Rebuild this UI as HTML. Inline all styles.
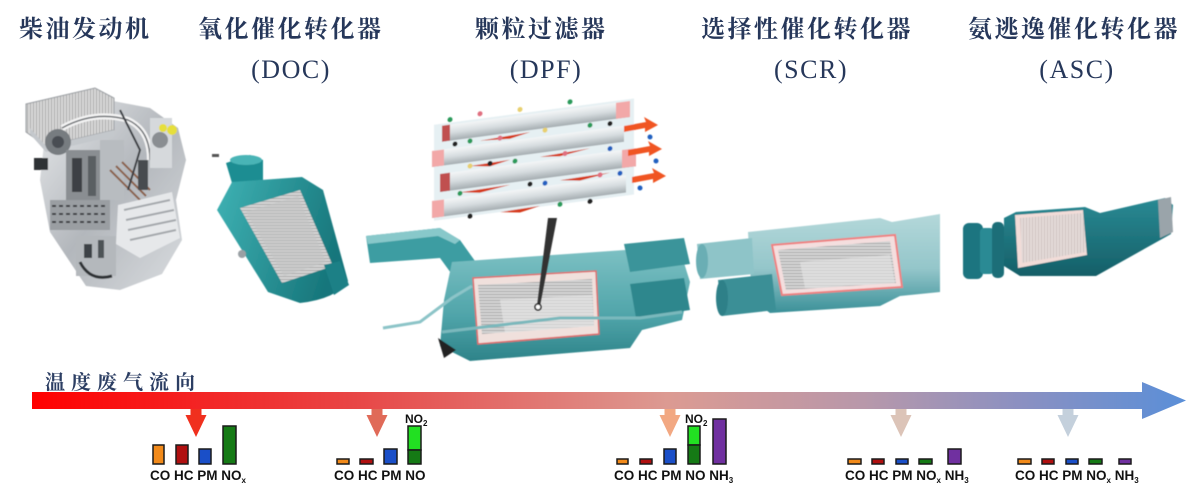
<!DOCTYPE html>
<html><head><meta charset="utf-8"><style>
html,body{margin:0;padding:0;background:#fff;}
svg{display:block;}
.t1{font-family:"Liberation Serif","Noto Serif CJK SC",serif;font-size:24px;font-weight:bold;fill:#26375a;letter-spacing:2.5px;}
.t2{font-family:"Liberation Serif","Noto Serif CJK SC",serif;font-size:26px;fill:#26375a;letter-spacing:1.5px;}
.lb{font-family:"Liberation Sans",Arial,sans-serif;font-size:13.5px;font-weight:bold;fill:#111;}
.sb{font-size:8px;}
.bar{stroke:#1a1a1a;stroke-width:1.5;}
</style></head><body>
<svg width="1193" height="491" viewBox="0 0 1193 491" xmlns="http://www.w3.org/2000/svg">
<defs>
<linearGradient id="main" x1="32" y1="0" x2="1186" y2="0" gradientUnits="userSpaceOnUse">
<stop offset="0" stop-color="#ff0000"/>
<stop offset="0.28" stop-color="#e84646"/>
<stop offset="0.55" stop-color="#dc9a92"/>
<stop offset="0.72" stop-color="#b898aa"/>
<stop offset="0.86" stop-color="#8a90c2"/>
<stop offset="1" stop-color="#5a8fd8"/>
</linearGradient>
<linearGradient id="doc" x1="0" y1="0" x2="1" y2="0.3">
<stop offset="0" stop-color="#3fb2b4"/><stop offset="1" stop-color="#17767b"/>
</linearGradient>
<linearGradient id="dpf" x1="0" y1="0" x2="0" y2="1">
<stop offset="0" stop-color="#7cc0c3"/><stop offset="0.6" stop-color="#4fa4a9"/><stop offset="1" stop-color="#2d8389"/>
</linearGradient>
<linearGradient id="scr" x1="0" y1="0" x2="0" y2="1">
<stop offset="0" stop-color="#b4d8da"/><stop offset="0.55" stop-color="#94c6ca"/><stop offset="1" stop-color="#3a9098"/>
</linearGradient>
<linearGradient id="asc" x1="0" y1="0" x2="0" y2="1">
<stop offset="0" stop-color="#2a8a94"/><stop offset="1" stop-color="#155f68"/>
</linearGradient>
<linearGradient id="bar" x1="0" y1="0" x2="0" y2="1">
<stop offset="0" stop-color="#f4f6f7"/><stop offset="0.5" stop-color="#d6dcdf"/><stop offset="1" stop-color="#a4acb0"/>
</linearGradient>
<linearGradient id="eng" x1="0" y1="0" x2="1" y2="1">
<stop offset="0" stop-color="#e8eaec"/><stop offset="0.5" stop-color="#b3b7bc"/><stop offset="1" stop-color="#dadde0"/>
</linearGradient>
<pattern id="stripe" width="3" height="3" patternUnits="userSpaceOnUse">
<rect width="3" height="3" fill="#d6d6d6"/><rect width="3" height="1" fill="#a8a8a8"/>
</pattern>
<pattern id="vstripe" width="3" height="3" patternUnits="userSpaceOnUse">
<rect width="3" height="3" fill="#d8d8d8"/><rect width="1" height="3" fill="#aaaaaa"/>
</pattern>
<filter id="soft"><feGaussianBlur stdDeviation="0.6"/></filter>
</defs>

<rect width="1193" height="491" fill="#fff"/>

<!-- Titles -->
<text class="t1" x="19" y="37">柴油发动机</text>
<text class="t1" x="198" y="37">氧化催化转化器</text>
<text class="t2" x="291" y="78" text-anchor="middle">(DOC)</text>
<text class="t1" x="475" y="37">颗粒过滤器</text>
<text class="t2" x="546" y="78" text-anchor="middle">(DPF)</text>
<text class="t1" x="701" y="37">选择性催化转化器</text>
<text class="t2" x="811" y="78" text-anchor="middle">(SCR)</text>
<text class="t1" x="968" y="37">氨逃逸催化转化器</text>
<text class="t2" x="1077" y="78" text-anchor="middle">(ASC)</text>

<!-- ENGINE -->
<g filter="url(#soft)">
<polygon points="45,135 108,100 150,108 178,128 186,160 176,200 182,240 162,274 120,290 86,286 70,262 50,232 40,180" fill="url(#eng)"/>
<polygon points="26,104 95,88 114,98 114,130 46,146 26,132" fill="url(#vstripe)" stroke="#9a9ea2" stroke-width="1"/>
<polygon points="30,128 46,146 114,130 114,136 46,152 30,134" fill="#c4c8cc"/>
<circle cx="58" cy="142" r="13" fill="#777b80"/>
<circle cx="58" cy="142" r="6" fill="#4a4e52"/>
<path d="M62 128 Q95 110 128 120 Q150 130 150 160" fill="none" stroke="#f4f4f4" stroke-width="6"/>
<path d="M62 128 Q95 110 128 120 Q150 130 150 160" fill="none" stroke="#6a6e72" stroke-width="1.5"/>
<rect x="66" y="150" width="40" height="50" fill="#8a8e92"/>
<rect x="72" y="158" width="10" height="34" fill="#3c4044"/>
<rect x="88" y="156" width="8" height="40" fill="#5a5e62"/>
<rect x="100" y="140" width="24" height="60" fill="#b8bcc0"/>
<path d="M110 170 L140 200 M116 166 L146 196 M122 162 L150 190" stroke="#8a6048" stroke-width="2"/>
<rect x="150" y="118" width="22" height="50" fill="#d6d9dc"/>
<circle cx="160" cy="140" r="8" fill="#8a8e92"/>
<circle cx="172" cy="130" r="5" fill="#e6df3a"/>
<circle cx="163" cy="128" r="4" fill="#e6df3a"/>
<polygon points="118,205 172,192 180,238 140,258 116,244" fill="#e6e8ea"/>
<path d="M124 210 L170 200 M126 220 L174 210 M128 230 L176 220 M130 240 L176 230" stroke="#a4a8ac" stroke-width="2"/>
<rect x="50" y="200" width="60" height="30" fill="#9a9ea2"/>
<path d="M52 206 H108 M52 214 H108 M52 222 H108" stroke="#3a3e42" stroke-width="2" stroke-dasharray="4 3"/>
<rect x="34" y="158" width="14" height="12" fill="#2e3236"/>
<rect x="76" y="236" width="40" height="40" fill="#b4b8bc"/>
<path d="M80 262 Q90 282 112 276" fill="none" stroke="#2e3236" stroke-width="3"/>
<rect x="84" y="244" width="8" height="14" fill="#3e4246"/>
<rect x="98" y="240" width="6" height="18" fill="#4e5256"/>
<path d="M120 110 L140 150 L128 190" stroke="#3a3e42" stroke-width="2" fill="none"/>
<rect x="138" y="160" width="10" height="30" fill="#474b50"/>
</g>

<!-- DOC -->
<g filter="url(#soft)">
<rect x="212" y="154" width="7" height="3" fill="#555"/>
<polygon points="226,163 250,155 263,160 263,180 232,183" fill="#1e8d92"/>
<ellipse cx="246" cy="160" rx="16" ry="5" fill="#4ab4b6"/>
<path d="M217,210 L232,182 L302,177 L323,190 L348,281 Q336,299 300,303 L268,292 Z" fill="url(#doc)"/>
<polygon points="240,208 300,190 333,266 282,283" fill="url(#stripe)"/>
<polygon points="246,212 298,196 326,262 284,276" fill="#c2c4c4" opacity="0.5"/>
<polygon points="324,265 340,261 349,285 334,295" fill="#1a8086"/>
<circle cx="242" cy="254" r="4" fill="#9aa0a4"/>
</g>

<!-- DPF body -->
<g filter="url(#soft)">
<polygon points="366,236 440,228 460,240 480,268 456,280 440,258 370,263" fill="#3e9da2"/>
<polygon points="366,236 440,228 460,240 455,244 438,236 368,244" fill="#88c8ca"/>
<path d="M452,262 L625,250 L642,258 L680,250 L690,282 L682,320 L642,330 L630,348 L470,361 L440,346 L444,300 Z" fill="url(#dpf)"/>
<polygon points="624,244 684,238 690,264 630,272" fill="#3a949a"/>
<polygon points="630,284 684,278 690,310 636,318" fill="#2e878d"/>
<polygon points="473,278 596,271 599,334 478,344" fill="#f0e0dc" stroke="#e06a6a" stroke-width="1.5"/>
<polygon points="478,285 592,279 594,326 482,334" fill="url(#stripe)"/>
<polygon points="500,300 592,295 594,326 505,333" fill="#e8e8e8" opacity="0.6"/>
<polyline points="383,328 420,322 452,298 472,286" fill="none" stroke="#8cc4c8" stroke-width="3"/>
<polyline points="442,332 560,318 640,318 682,312" fill="none" stroke="#7ab8bc" stroke-width="3"/>
<polygon points="438,338 456,350 444,358" fill="#222"/>
</g>

<!-- DPF inset -->
<g filter="url(#soft)">
<g transform="translate(440,0) skewY(-7.5) translate(-440,0)">
<rect x="434" y="124" width="200" height="96" fill="#e6f0f3"/>
<rect x="442" y="126" width="188" height="16" fill="url(#bar)"/>
<rect x="432" y="150" width="192" height="16" fill="url(#bar)"/>
<rect x="440" y="174" width="196" height="18" fill="url(#bar)"/>
<rect x="432" y="200" width="194" height="17" fill="url(#bar)"/>
<rect x="616" y="126" width="14" height="16" fill="#f2a8a8"/>
<rect x="432" y="150" width="12" height="16" fill="#f2a8a8"/>
<rect x="622" y="174" width="14" height="18" fill="#f2a8a8"/>
<rect x="432" y="200" width="12" height="17" fill="#f2a8a8"/>
<rect x="442" y="126" width="8" height="16" fill="#c05050"/>
<rect x="440" y="174" width="10" height="18" fill="#c05050"/>
<path d="M480 146 L530 144 L510 148 Z M540 170 L590 168 L560 172 Z M460 195 L510 194 L480 198 Z M560 196 L610 195 L580 199 Z M500 220 L540 219 L520 223 Z M470 170 L510 169 L490 173 Z" fill="#d63a1c"/>
<g>
<circle cx="455" cy="146" r="2.5" fill="#222"/><circle cx="470" cy="145" r="2.5" fill="#2a9a5a"/><circle cx="500" cy="146" r="2.5" fill="#e07080"/><circle cx="545" cy="144" r="2.5" fill="#e8d070"/><circle cx="590" cy="145" r="2.5" fill="#2a9a5a"/><circle cx="610" cy="146" r="2.5" fill="#222"/>
<circle cx="470" cy="170" r="2.5" fill="#e8d070"/><circle cx="490" cy="170" r="2.5" fill="#222"/><circle cx="515" cy="171" r="2.5" fill="#2a9a5a"/><circle cx="565" cy="170" r="2.5" fill="#e07080"/><circle cx="610" cy="171" r="2.5" fill="#2060c0"/>
<circle cx="460" cy="196" r="2.5" fill="#2a9a5a"/><circle cx="530" cy="196" r="2.5" fill="#222"/><circle cx="545" cy="197" r="2.5" fill="#2060c0"/><circle cx="600" cy="196" r="2.5" fill="#e07080"/><circle cx="620" cy="197" r="2.5" fill="#2060c0"/>
<circle cx="470" cy="220" r="2.5" fill="#222"/><circle cx="560" cy="220" r="2.5" fill="#2a9a5a"/><circle cx="590" cy="221" r="2.5" fill="#222"/>
<circle cx="450" cy="121" r="2.5" fill="#2a9a5a"/><circle cx="480" cy="119" r="2.5" fill="#e07080"/><circle cx="520" cy="120" r="2.5" fill="#e8d070"/><circle cx="570" cy="119" r="2.5" fill="#2a9a5a"/>
</g>
</g>
<path d="M624,126 L646,122 L644,117 L658,125 L645,132 L645,128 L624,132 Z" fill="#f05424"/>
<path d="M628,150 L650,146 L648,141 L662,149 L649,156 L649,152 L628,156 Z" fill="#f05424"/>
<path d="M632,177 L654,173 L652,168 L666,176 L653,183 L653,179 L632,183 Z" fill="#f05424"/>
<circle cx="650" cy="137" r="2.5" fill="#2060c0"/><circle cx="656" cy="161" r="2.5" fill="#2060c0"/><circle cx="640" cy="188" r="2.5" fill="#2060c0"/>
<polygon points="548,218 557,218 540,306 537,306" fill="#333"/>
<circle cx="538" cy="307" r="3" fill="#fff" stroke="#222" stroke-width="1.5"/>
</g>

<!-- SCR -->
<g filter="url(#soft)">
<polygon points="748,232 880,218 892,222 940,214 940,292 900,296 880,306 770,313 752,300" fill="url(#scr)"/>
<polygon points="697,244 752,238 754,274 700,279" fill="#8ec4c8"/>
<ellipse cx="702" cy="261" rx="6" ry="17" fill="#6aaeb4"/>
<polygon points="718,280 772,274 776,310 722,316" fill="#3a8f96"/>
<ellipse cx="722" cy="298" rx="6" ry="18" fill="#2e8088"/>
<polygon points="772,245 895,235 902,287 782,295" fill="#f4dede" stroke="#ef8080" stroke-width="2"/>
<polygon points="778,250 890,241 896,283 786,290" fill="url(#stripe)"/>
<polygon points="800,262 890,255 895,283 805,288" fill="#e6e6e6" opacity="0.6"/>
</g>

<!-- ASC -->
<g filter="url(#soft)">
<rect x="963" y="223" width="20" height="56" rx="6" fill="#1f7480"/>
<rect x="980" y="228" width="14" height="46" rx="4" fill="#2a8a94"/>
<rect x="992" y="222" width="12" height="56" rx="5" fill="#1c6e78"/>
<polygon points="1004,218 1016,212 1085,207 1100,213 1165,198 1173,205 1171,234 1096,276 1020,276 1004,266" fill="url(#asc)"/>
<polygon points="1015,215 1083,210 1087,255 1018,268" fill="#f2dcd8"/>
<polygon points="1020,218 1083,213 1086,252 1022,263" fill="url(#vstripe)" opacity="0.5"/>
<polygon points="1158,200 1171,197 1173,232 1160,238" fill="#9aa4aa"/>
</g>

<!-- Flow arrow -->
<text x="45" y="389" style="font-family:'Liberation Serif','Noto Serif CJK SC',serif;font-size:20px;font-weight:bold;fill:#2c3e63;letter-spacing:6px;">温度废气流向</text>
<polygon points="32,392 1142,392 1142,382 1186,400.5 1142,419 1142,409 32,409" fill="url(#main)"/>

<!-- Down arrows -->
<g>
<polygon points="190.5,409 201.5,409 201.5,415 206.5,415 196,437 185.5,415 190.5,415" fill="#f0301e"/>
<polygon points="371.5,409 382.5,409 382.5,415 387.5,415 377,437 366.5,415 371.5,415" fill="#e06a58"/>
<polygon points="664.5,409 675.5,409 675.5,415 680.5,415 670,437 659.5,415 664.5,415" fill="#f2a882"/>
<polygon points="895.5,409 906.5,409 906.5,415 911.5,415 901,437 890.5,415 895.5,415" fill="#dcc4b8"/>
<polygon points="1062.5,409 1073.5,409 1073.5,415 1078.5,415 1068,437 1057.5,415 1062.5,415" fill="#c4d0dc"/>
</g>

<!-- Group 1 -->
<rect class="bar" x="153" y="445" width="11" height="19" fill="#f28a1a"/>
<rect class="bar" x="176" y="445" width="12" height="19" fill="#b01010"/>
<rect class="bar" x="199" y="449" width="12" height="15" fill="#1a4fc8"/>
<rect class="bar" x="223" y="426" width="13" height="38" fill="#157a15"/>
<text class="lb" x="150" y="480">CO HC PM NO<tspan class="sb" dy="3">x</tspan></text>

<!-- Group 2 -->
<rect class="bar" x="337" y="459" width="12" height="5" fill="#f28a1a"/>
<rect class="bar" x="360" y="459" width="13" height="5" fill="#b01010"/>
<rect class="bar" x="384" y="449" width="13" height="15" fill="#1a4fc8"/>
<rect class="bar" x="408" y="426" width="13" height="24" fill="#22e022"/>
<rect class="bar" x="408" y="450" width="13" height="14" fill="#157a15"/>
<text class="lb" x="334" y="480">CO HC PM NO</text>
<text class="lb" x="405" y="423" style="font-size:12px">NO<tspan class="sb" dy="3">2</tspan></text>

<!-- Group 3 -->
<rect class="bar" x="617" y="459" width="11" height="5" fill="#f28a1a"/>
<rect class="bar" x="640" y="459" width="12" height="5" fill="#b01010"/>
<rect class="bar" x="664" y="449" width="12" height="15" fill="#1a4fc8"/>
<rect class="bar" x="688" y="426" width="12" height="19" fill="#22e022"/>
<rect class="bar" x="688" y="445" width="12" height="19" fill="#157a15"/>
<rect class="bar" x="713" y="419" width="13" height="45" fill="#7030a0"/>
<text class="lb" x="614" y="480">CO HC PM NO NH<tspan class="sb" dy="3">3</tspan></text>
<text class="lb" x="685" y="423" style="font-size:12px">NO<tspan class="sb" dy="3">2</tspan></text>

<!-- Group 4 -->
<rect class="bar" x="848" y="459" width="13" height="5" fill="#f28a1a"/>
<rect class="bar" x="872" y="459" width="12" height="5" fill="#b01010"/>
<rect class="bar" x="896" y="459" width="12" height="5" fill="#1a4fc8"/>
<rect class="bar" x="919" y="459" width="13" height="5" fill="#157a15"/>
<rect class="bar" x="948" y="449" width="13" height="15" fill="#7030a0"/>
<text class="lb" x="845" y="480">CO HC PM NO<tspan class="sb" dy="3">x</tspan><tspan dy="-3"> NH</tspan><tspan class="sb" dy="3">3</tspan></text>

<!-- Group 5 -->
<rect class="bar" x="1018" y="459" width="13" height="5" fill="#f28a1a"/>
<rect class="bar" x="1042" y="459" width="12" height="5" fill="#b01010"/>
<rect class="bar" x="1066" y="459" width="12" height="5" fill="#1a4fc8"/>
<rect class="bar" x="1089" y="459" width="13" height="5" fill="#157a15"/>
<rect class="bar" x="1119" y="459" width="12" height="5" fill="#7030a0"/>
<text class="lb" x="1015" y="480">CO HC PM NO<tspan class="sb" dy="3">x</tspan><tspan dy="-3"> NH</tspan><tspan class="sb" dy="3">3</tspan></text>
</svg>
</body></html>
